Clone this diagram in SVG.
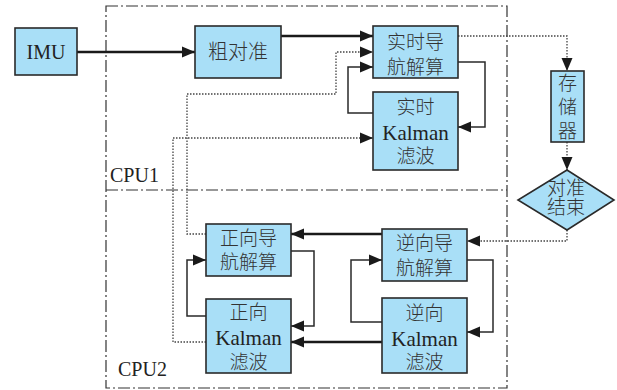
<svg xmlns="http://www.w3.org/2000/svg" width="617" height="390" viewBox="0 0 617 390">
<style>
.box{fill:#a9dff7;stroke:#2a2a2a;stroke-width:1.6}
.t{font-family:"Liberation Serif","Noto Sans CJK SC",serif;font-size:20px;fill:#222;text-anchor:middle}
.cn{font-family:"Noto Sans CJK SC",sans-serif;font-size:19px;font-weight:300;fill:#333;text-anchor:middle}
.lab{font-family:"Liberation Serif",serif;font-size:20px;fill:#222}
.thick{fill:none;stroke:#1a1a1a;stroke-width:2.4}
.thin{fill:none;stroke:#2a2a2a;stroke-width:1.5}
.dot{fill:none;stroke:#444;stroke-width:1.3;stroke-dasharray:1.5 1.5}
.frame{fill:none;stroke:#333;stroke-width:1.2;stroke-dasharray:12 3 2 3}
</style>
<defs>
<marker id="ah" markerUnits="userSpaceOnUse" markerWidth="14" markerHeight="14" viewBox="0 0 14 14" refX="13" refY="7" orient="auto">
<path d="M0,1.5 L13,7 L0,12.5 Z" fill="#1a1a1a"/>
</marker>
</defs>
<g id="frames">
<path class="frame" d="M106,6 H507 V388 H106 Z M106,190 H507"/>
<text class="lab" x="110" y="182">CPU1</text>
<text class="lab" x="118" y="376">CPU2</text>
</g>
<g id="connectors">
<path class="thick" d="M77,52 H195" marker-end="url(#ah)"/>
<path class="thick" d="M281,36 H373" marker-end="url(#ah)"/>
<path class="dot" d="M206,234 H187 V94 H336 V52 H373" marker-end="url(#ah)"/>
<path class="thin" d="M373,113 H348 V67 H373" marker-end="url(#ah)"/>
<path class="thin" d="M458,62 H485 V127 H458" marker-end="url(#ah)"/>
<path class="dot" d="M206,342 H173 V138 H373" marker-end="url(#ah)"/>
<path class="dot" d="M458,36 H567 V71" marker-end="url(#ah)"/>
<path class="dot" d="M567,142 V170" marker-end="url(#ah)"/>
<path class="dot" d="M567,230 V241 H467" marker-end="url(#ah)"/>
<path class="thick" d="M382,234 H291" marker-end="url(#ah)"/>
<path class="thick" d="M382,342 H291" marker-end="url(#ah)"/>
<path class="thin" d="M291,251 H314 V326 H291" marker-end="url(#ah)"/>
<path class="thin" d="M206,316 H187 V260 H206" marker-end="url(#ah)"/>
<path class="thin" d="M467,260 H493 V332 H467" marker-end="url(#ah)"/>
<path class="thin" d="M382,322 H351 V260 H382" marker-end="url(#ah)"/>
</g>
<g id="imu">
<rect class="box" x="15" y="28" width="62" height="47"/>
<text class="t" x="46" y="59">IMU</text>
</g>
<g id="coarse">
<rect class="box" x="195" y="26" width="86" height="52"/>
<text class="cn" x="238" y="59" style="font-size:20px">粗对准</text>
</g>
<g id="rt-nav">
<rect class="box" x="373" y="26" width="85" height="52"/>
<text class="cn" x="415.5" y="49">实时导</text>
<text class="cn" x="415.5" y="74">航解算</text>
</g>
<g id="rt-kf">
<rect class="box" x="373" y="92" width="85" height="78"/>
<text class="cn" x="415.5" y="114">实时</text>
<text class="t" x="415.5" y="140" style="font-size:21px">Kalman</text>
<text class="cn" x="415.5" y="163">滤波</text>
</g>
<g id="storage">
<rect class="box" x="551" y="71" width="33" height="71"/>
<text class="cn" x="567.5" y="90">存</text>
<text class="cn" x="567.5" y="114">储</text>
<text class="cn" x="567.5" y="138">器</text>
</g>
<g id="done">
<path class="box" d="M567,170 L614,200 L567,230 L518,200 Z"/>
<text class="cn" x="566" y="195">对准</text>
<text class="cn" x="566" y="214">结束</text>
</g>
<g id="fwd-nav">
<rect class="box" x="206" y="224" width="85" height="52"/>
<text class="cn" x="248.5" y="245">正向导</text>
<text class="cn" x="248.5" y="269">航解算</text>
</g>
<g id="fwd-kf">
<rect class="box" x="206" y="299" width="85" height="74"/>
<text class="cn" x="248.5" y="319">正向</text>
<text class="t" x="248.5" y="345" style="font-size:21px">Kalman</text>
<text class="cn" x="248.5" y="369">滤波</text>
</g>
<g id="bwd-nav">
<rect class="box" x="382" y="229" width="85" height="52"/>
<text class="cn" x="424.5" y="250">逆向导</text>
<text class="cn" x="424.5" y="275">航解算</text>
</g>
<g id="bwd-kf">
<rect class="box" x="382" y="298" width="85" height="75"/>
<text class="cn" x="424.5" y="320">逆向</text>
<text class="t" x="424.5" y="346" style="font-size:21px">Kalman</text>
<text class="cn" x="424.5" y="369">滤波</text>
</g>
</svg>
